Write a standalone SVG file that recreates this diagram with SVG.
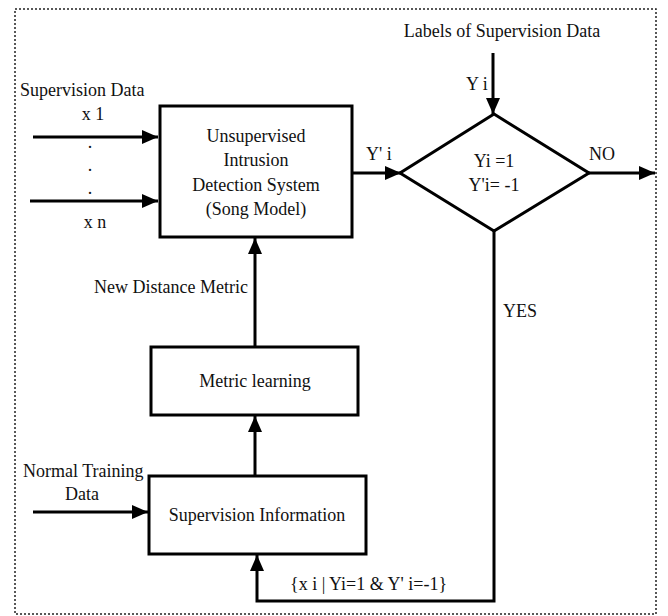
<svg xmlns="http://www.w3.org/2000/svg" width="668" height="616" viewBox="0 0 668 616">
<defs>
<marker id="ah" viewBox="0 0 16 14" refX="16" refY="7" markerWidth="16" markerHeight="14" markerUnits="userSpaceOnUse" orient="auto">
<path d="M0,0 L16,7 L0,14 Z" fill="#000"/>
</marker>
</defs>
<style>
text{font-family:"Liberation Serif","Times New Roman",serif;font-size:18px;fill:#111}
.c{text-anchor:middle}
.box{fill:#fff;stroke:#000;stroke-width:3}
.ln{fill:none;stroke:#000;stroke-width:3}
.ar{fill:none;stroke:#000;stroke-width:3;marker-end:url(#ah)}
.frame{fill:none;stroke:#222;stroke-width:1.5;stroke-dasharray:2 2}
</style>
<rect class="frame" x="15" y="9" width="641" height="605"/>
<g id="connectors">
<line class="ar" x1="33" y1="137" x2="158" y2="137"/>
<line class="ar" x1="30" y1="201" x2="158" y2="201"/>
<line class="ar" x1="352" y1="173" x2="401" y2="173"/>
<line class="ar" x1="493" y1="53" x2="493" y2="114"/>
<line class="ar" x1="589" y1="173" x2="655" y2="173"/>
<line class="ar" x1="255" y1="347" x2="255" y2="238"/>
<line class="ar" x1="255" y1="476" x2="255" y2="416"/>
<line class="ar" x1="33" y1="512" x2="148" y2="512"/>
<polyline class="ar" points="494,231 494,601 257,601 257,555"/>
</g>
<g id="text-labels">
<text x="20" y="96">Supervision Data</text>
<text class="c" x="93" y="120">x 1</text>
<text class="c" x="90" y="148">.</text>
<text class="c" x="90" y="171">.</text>
<text class="c" x="90" y="194">.</text>
<text class="c" x="95" y="228">x n</text>
<text class="c" x="502" y="37">Labels of Supervision Data</text>
<text x="466" y="90">Y i</text>
<text x="366" y="160">Y' i</text>
<text x="589" y="160">NO</text>
<text x="503" y="317">YES</text>
<text x="248" y="293" text-anchor="end">New Distance Metric</text>
<text x="23" y="477">Normal Training</text>
<text class="c" x="82" y="500">Data</text>
<text x="290" y="590">{x i | Yi=1 &amp; Y' i=-1}</text>
</g>
<g id="ids">
<rect class="box" x="160" y="106" width="192" height="131"/>
<text class="c" x="256" y="142">Unsupervised</text>
<text class="c" x="256" y="166">Intrusion</text>
<text class="c" x="256" y="191">Detection System</text>
<text class="c" x="256" y="215">(Song Model)</text>
</g>
<g id="decision">
<polygon class="box" points="494,114 589,173 494,231 400,173"/>
<text class="c" x="494" y="167">Yi =1</text>
<text class="c" x="494" y="191">Y'i= -1</text>
</g>
<g id="metric-learning">
<rect class="box" x="151" y="347" width="207" height="68"/>
<text class="c" x="255" y="387">Metric learning</text>
</g>
<g id="supervision-information">
<rect class="box" x="149" y="476" width="217" height="78"/>
<text class="c" x="257" y="521">Supervision Information</text>
</g>
</svg>
